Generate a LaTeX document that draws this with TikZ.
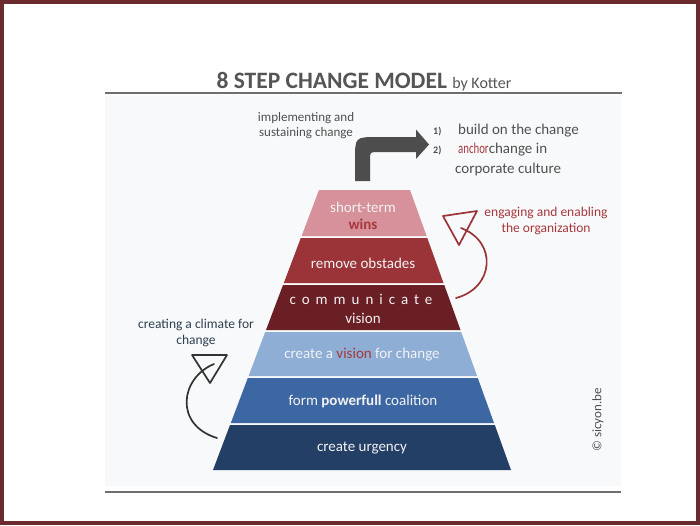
\documentclass[tikz,border=0pt]{standalone}
\usepackage{fontspec}
\setmainfont{Carlito}
\definecolor{bordercol}{HTML}{6B2A2E}
\definecolor{panel}{HTML}{F8F9FA}
\definecolor{rulecol}{HTML}{6E6E6E}
\definecolor{titlecol}{HTML}{555555}
\definecolor{arrowgrey}{HTML}{4D4D4D}
\definecolor{lay1}{HTML}{D6919A}
\definecolor{lay2}{HTML}{9A3439}
\definecolor{lay3}{HTML}{6A1F24}
\definecolor{lay4}{HTML}{8EAED5}
\definecolor{lay5}{HTML}{3D67A3}
\definecolor{lay6}{HTML}{243F66}
\definecolor{redtxt}{HTML}{A8383D}
\definecolor{slate}{HTML}{2F4050}
\definecolor{greytxt}{HTML}{505050}
\tikzset{
  rule/.style={draw=rulecol, line width=1.6pt},
  laytext/.style={text=white!95!black, font=\fontsize{15}{17}\selectfont, inner sep=0pt},
  note/.style={font=\fontsize{13.5}{15.5}\selectfont, align=center, inner sep=0pt},
  sketch/.style={line width=1.7pt, line cap=round, line join=round},
}
\begin{document}
\begin{tikzpicture}[x=1pt,y=-1pt]
\useasboundingbox (0,0) rectangle (700,525);
\fill[white] (0,0) rectangle (700,525);
\fill[panel] (105,95) rectangle (621,486);
\draw[line width=4pt, bordercol] (2,2) rectangle (698,523);
\draw[rule] (105,93) -- (622,93);
\draw[rule] (105,492) -- (621,492);

% title
\node[anchor=base, text=titlecol, inner sep=0pt, font=\fontsize{23.5}{26}\selectfont\bfseries] (title) at (364,88)
  {8 STEP CHANGE MODEL {\fontsize{16}{18}\selectfont\mdseries by Kotter}};

% pyramid layers
\fill[lay1] (319,190) -- (410,190) -- (426.6,236) -- (301.6,236) -- cycle;
\fill[lay2] (300.8,238) -- (427.3,238) -- (443.5,283) -- (283.8,283) -- cycle;
\fill[lay3] (283.0,285) -- (444.3,285) -- (460.5,330) -- (266.0,330) -- cycle;
\fill[lay4] (265.2,332) -- (461.2,332) -- (477.1,376) -- (248.6,376) -- cycle;
\fill[lay5] (247.8,378) -- (477.8,378) -- (494.0,423) -- (230.8,423) -- cycle;
\fill[lay6] (230.0,425) -- (494.8,425) -- (511,470) -- (213,470) -- cycle;

\node[laytext] (l1a) at (363,207) {short-term};
\node[laytext, text=redtxt, font=\fontsize{15}{17}\selectfont\bfseries] (l1b) at (363,224) {wins};
\node[laytext] (l2) at (363,263) {remove obstades};
\node[laytext] (l3a) at (361,299) {\addfontfeature{LetterSpace=40}communicate};
\node[laytext] (l3b) at (363,318) {vision};
\node[laytext] (l4) at (362,355) {create a \textcolor{redtxt}{vision} for change};
\node[laytext] (l5) at (363,401) {form \textbf{powerfull} coalition};
\node[laytext] (l6) at (362,448) {create urgency};

% grey bent arrow
\fill[arrowgrey] (355,181) -- (355,160) .. controls (355,137) .. (378,137) -- (416,137) -- (416,129.5)
  -- (429,144.5) -- (416,159) -- (416,152) -- (378,152) .. controls (370,152) .. (370,160) -- (370,181) -- cycle;

\node[note, text=greytxt, font=\fontsize{13}{15}\selectfont] (impl) at (306,126) {implementing and\\sustaining change};

% numbered list
\node[anchor=west, inner sep=0pt, text=greytxt, font=\fontsize{10}{12}\selectfont\bfseries] (n1) at (433,132) {1)};
\node[anchor=west, inner sep=0pt, text=greytxt, font=\fontsize{10}{12}\selectfont\bfseries] (n2) at (433,151) {2)};
\node[anchor=west, inner sep=0pt, text=greytxt, font=\fontsize{15}{17}\selectfont] (b1) at (458,131) {build on the change};
\node[anchor=west, inner sep=0pt, text=greytxt, font=\fontsize{15}{17}\selectfont] (b2) at (458,150)
  {\textcolor{redtxt}{\scalebox{0.72}[1]{anchor}}change in};
\node[anchor=west, inner sep=0pt, text=greytxt, font=\fontsize{15}{17}\selectfont] (b3) at (455,169) {corporate culture};

% red hand-drawn arrow
\node[note, text=redtxt] (engage) at (546,221) {engaging and enabling\\the organization};
\draw[sketch, draw=lay2] (456,298) .. controls (494,288) and (498,242) .. (461,228);
\draw[sketch, draw=lay2] (443,216) -- (477,211) -- (459,245) -- cycle;

% black hand-drawn arrow
\node[note, text=slate] (climate) at (196,333) {creating a climate for\\change};
\draw[sketch, draw=black!80] (217,438) .. controls (174,425) and (180,378) .. (214,364);
\draw[sketch, draw=black!80] (192,355) -- (227,355) -- (210,383) -- cycle;

% copyright
\node[rotate=90, inner sep=0pt, text=greytxt, font=\fontsize{13}{15}\selectfont] (copy) at (598,420) {© sicyon.be};
\end{tikzpicture}
\end{document}
